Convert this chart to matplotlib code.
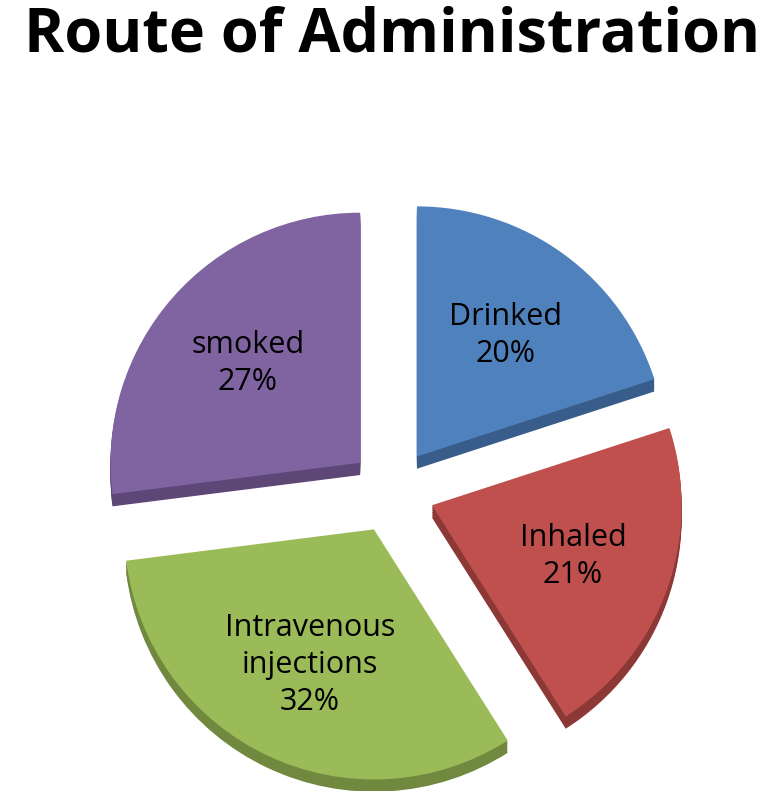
import matplotlib
matplotlib.use("Agg")
import matplotlib.pyplot as plt
import numpy as np

labels = ["Drinked", "Inhaled", "Intravenous\ninjections", "smoked"]
values = [20, 21, 32, 27]
colors = ["#4F81BD", "#C0504D", "#9BBB59", "#8064A2"]
dark = ["#385D8A", "#8C3836", "#71893F", "#5C4776"]
explode = [0.17, 0.17, 0.17, 0.17]

fig = plt.figure(figsize=(7.84, 7.91), dpi=100)
fig.text(0.5, 0.955, "Route of Administration", ha="center", va="center",
         fontsize=44, fontweight="bold", family="Open Sans")
ax = fig.add_axes([0.0, 0.0, 1.0, 0.86])

for k in range(1, 8):
    ax.pie(values, explode=explode, colors=dark, startangle=90, counterclock=False,
           center=(0, -0.007 * k), wedgeprops=dict(linewidth=0))
wedges, texts = ax.pie(values, explode=explode, colors=colors, startangle=90,
                       counterclock=False, wedgeprops=dict(linewidth=0))
for w, lab, v, e in zip(wedges, labels, values, explode):
    ang = np.deg2rad((w.theta1 + w.theta2) / 2)
    r = 0.6 + e
    ax.text(r * np.cos(ang), r * np.sin(ang), f"{lab}\n{v}%", ha="center", va="center",
            fontsize=22, family="Open Sans", linespacing=1.3)
ax.set_aspect("auto")
ax.set_xlim(-1.57, 1.57)
ax.set_ylim(-1.2, 1.52)
ax.axis("off")
fig.savefig("out.png", dpi=100)
